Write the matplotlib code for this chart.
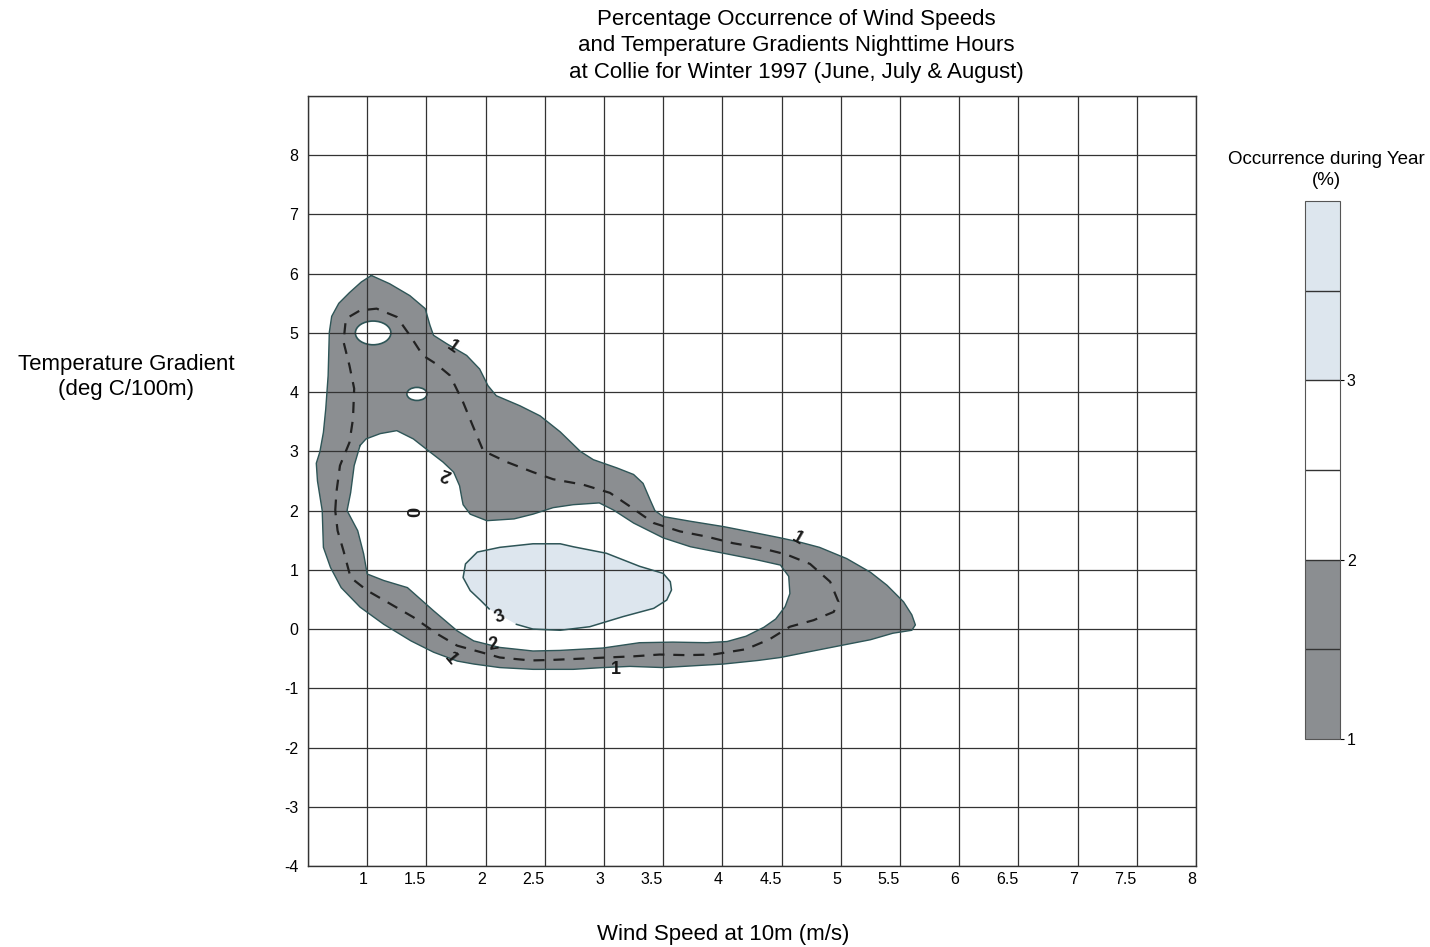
import numpy as np
import matplotlib as mpl
import matplotlib.pyplot as plt
from matplotlib.colors import ListedColormap, BoundaryNorm
from matplotlib.patches import Ellipse

plt.rcParams['font.family'] = ['Liberation Sans', 'DejaVu Sans']

# isolines (wind speed m/s, temp gradient deg C/100m)
# 1 % isoline (outer edge of the grey band)
lvl1_ws = [1.035, 1.19, 1.36, 1.49, 1.53, 1.56, 1.67, 1.84, 1.95, 2.02, 2.09, 2.29, 2.46,
           2.63, 2.80, 2.91, 3.11, 3.25, 3.33, 3.39, 3.43, 3.50, 3.73, 4.01, 4.29, 4.49,
           4.65, 4.82, 5.05, 5.25, 5.39, 5.53, 5.60, 5.63, 5.60, 5.44, 5.25, 5.02, 4.74,
           4.49, 4.30, 4.01, 3.50, 3.22, 2.99, 2.74, 2.40, 2.12, 1.90, 1.76, 1.56, 1.37,
           1.14, 0.94, 0.78, 0.69, 0.63, 0.62, 0.58, 0.57, 0.60, 0.63, 0.65, 0.67, 0.68,
           0.70, 0.76, 0.85, 0.95]
lvl1_tg = [5.97, 5.83, 5.63, 5.41, 5.13, 4.96, 4.82, 4.62, 4.39, 4.11, 3.94, 3.77, 3.60,
           3.33, 3.00, 2.86, 2.72, 2.61, 2.46, 2.18, 2.00, 1.90, 1.82, 1.73, 1.62, 1.54,
           1.47, 1.38, 1.19, 0.96, 0.74, 0.46, 0.24, 0.07, -0.02, -0.07, -0.18, -0.27, -0.38,
           -0.48, -0.53, -0.59, -0.65, -0.63, -0.65, -0.68, -0.68, -0.65, -0.59, -0.54, -0.39, -0.20,
           0.08, 0.37, 0.70, 1.04, 1.38, 2.00, 2.50, 2.80, 2.99, 3.32, 3.72, 4.28, 5.01,
           5.28, 5.50, 5.68, 5.86]

# 2 % isoline (white area inside the band)
lvl2_ws = [0.94, 0.99, 1.11, 1.25, 1.39, 1.53, 1.64, 1.73, 1.78, 1.80, 1.81, 1.87, 2.01,
           2.24, 2.40, 2.57, 2.74, 2.96, 3.08, 3.25, 3.50, 3.73, 4.01, 4.29, 4.49, 4.56,
           4.57, 4.53, 4.45, 4.35, 4.20, 4.04, 3.87, 3.58, 3.30, 2.99, 2.63, 2.40, 2.12,
           1.90, 1.76, 1.56, 1.34, 1.14, 1.00, 0.97, 0.92, 0.83, 0.86, 0.89]
lvl2_tg = [3.10, 3.21, 3.30, 3.35, 3.21, 2.99, 2.82, 2.65, 2.42, 2.20, 2.10, 1.94, 1.83,
           1.86, 1.94, 2.05, 2.10, 2.13, 2.01, 1.79, 1.54, 1.39, 1.28, 1.17, 1.08, 0.89,
           0.60, 0.38, 0.17, 0.03, -0.12, -0.21, -0.23, -0.22, -0.23, -0.32, -0.36, -0.37, -0.31,
           -0.20, -0.03, 0.31, 0.70, 0.82, 0.93, 1.27, 1.66, 2.00, 2.30, 2.76]

# small 2 % pockets inside the grey area: centre and half widths
pocket_ws = [1.05, 1.42]
pocket_tg = [5.00, 3.97]
pocket_dws = [0.15, 0.085]
pocket_dtg = [0.20, 0.11]

# 3 % isoline
lvl3_ws = [2.26, 2.40, 2.63, 2.88, 3.16, 3.42, 3.53, 3.57, 3.56, 3.50, 3.30, 3.02, 2.74,
           2.63, 2.40, 2.12, 1.93, 1.83, 1.81, 1.87, 1.96, 2.03]
lvl3_tg = [0.08, 0.00, -0.02, 0.04, 0.21, 0.35, 0.49, 0.66, 0.80, 0.94, 1.06, 1.28, 1.39,
           1.44, 1.44, 1.38, 1.30, 1.10, 0.87, 0.65, 0.48, 0.34]

# dashed line through the grey band
dash_ws = [0.73, 0.74, 0.77, 0.85, 0.88, 0.89, 0.85, 0.80, 0.82, 0.94, 1.08, 1.25, 1.36,
           1.47, 1.58, 1.70, 1.81, 1.89, 1.98, 2.18, 2.40, 2.57, 2.82, 3.05, 3.22, 3.42,
           3.64, 3.87, 4.09, 4.32, 4.54, 4.74, 4.91, 4.98, 4.94, 4.77, 4.57, 4.40, 4.20,
           3.92, 3.70, 3.47, 3.25, 3.02, 2.80, 2.57, 2.38, 2.12, 1.96, 1.76, 1.59, 1.39,
           1.20, 1.00, 0.86, 0.80, 0.75, 0.73]
dash_tg = [2.00, 2.31, 2.76, 3.15, 3.55, 4.06, 4.45, 4.85, 5.24, 5.38, 5.41, 5.27, 4.96,
           4.62, 4.48, 4.28, 3.83, 3.44, 3.01, 2.82, 2.65, 2.53, 2.44, 2.30, 2.07, 1.79,
           1.65, 1.56, 1.45, 1.37, 1.26, 1.10, 0.80, 0.46, 0.29, 0.15, 0.04, -0.17, -0.34,
           -0.43, -0.44, -0.43, -0.46, -0.48, -0.50, -0.52, -0.53, -0.48, -0.39, -0.28, -0.08, 0.20,
           0.42, 0.65, 0.87, 1.32, 1.66, 2.00]

# hand written labels on the lines
lab_text = ['1', '2', '0', '1', '3', '2', '1', '1']
lab_ws = [1.72, 1.67, 1.41, 4.63, 2.12, 2.07, 1.70, 3.10]
lab_tg = [4.76, 2.62, 1.97, 1.52, 0.20, -0.26, -0.50, -0.68]
lab_rot = [-35, 160, 90, -30, 20, 10, -50, 0]

x_ticks = [0.5, 1, 1.5, 2, 2.5, 3, 3.5, 4, 4.5, 5, 5.5, 6, 6.5, 7, 7.5, 8]
x_labels = ['', '1', '1.5', '2', '2.5', '3', '3.5', '4', '4.5', '5', '5.5', '6', '6.5',
            '7', '7.5', '8']
y_ticks = list(range(-4, 10))
y_labels = [str(v) for v in range(-4, 9)] + ['']

cb_bounds = [1, 1.5, 2, 2.5, 3, 3.5, 4]
cb_ticks = [1, 2, 3]

GREY = '#8b8e91'
BLUE = '#dde6ee'
EDGE = '#2e5557'

fig = plt.figure(figsize=(14.3, 9.47), dpi=100)
ax = fig.add_axes([308 / 1430, 81 / 947, 888 / 1430, 770 / 947])

ax.fill(lvl1_ws, lvl1_tg, color=GREY, lw=0, zorder=1)
ax.plot(lvl1_ws + lvl1_ws[:1], lvl1_tg + lvl1_tg[:1], color=EDGE, lw=1, zorder=3)
ax.fill(lvl2_ws, lvl2_tg, color='white', lw=0, zorder=1.1)
ax.plot(lvl2_ws + lvl2_ws[:1], lvl2_tg + lvl2_tg[:1], color=EDGE, lw=1, zorder=3)
for cx, cy, dx, dy in zip(pocket_ws, pocket_tg, pocket_dws, pocket_dtg):
    ax.add_patch(Ellipse((cx, cy), 2 * dx, 2 * dy, facecolor='white', edgecolor=EDGE,
                         lw=1.2, zorder=1.2))
ax.fill(lvl3_ws, lvl3_tg, color=BLUE, lw=0, zorder=1.3)
ax.plot(lvl3_ws, lvl3_tg, color=EDGE, lw=1.1, zorder=3)
ax.plot(dash_ws, dash_tg, color='#222222', lw=1.6, ls=(0, (5, 4)), zorder=3.5)

for t, x, y, r in zip(lab_text, lab_ws, lab_tg, lab_rot):
    ax.text(x, y, t, rotation=r, ha='center', va='center', fontsize=13,
            fontweight='bold', color='#1a1a1a', zorder=4)

ax.set_xlim(0.5, 8)
ax.set_ylim(-4, 9)
ax.set_xticks(x_ticks)
ax.set_xticklabels(x_labels)
ax.set_yticks(y_ticks)
ax.set_yticklabels(y_labels)
for lbl in ax.get_xticklabels():
    lbl.set_horizontalalignment('right')
ax.tick_params(length=0, labelsize=11.5)
ax.tick_params(axis='x', pad=4)
ax.tick_params(axis='y', pad=7)
ax.grid(True, color='#333333', lw=0.9)
ax.set_axisbelow(False)
for sp in ax.spines.values():
    sp.set_color('#333333')
    sp.set_linewidth(1)

fig.text(796 / 1430, 1 - 46 / 947,
         'Percentage Occurrence of Wind Speeds\nand Temperature Gradients Nighttime Hours\n'
         'at Collie for Winter 1997 (June, July & August)',
         ha='center', va='center', fontsize=16, linespacing=1.32)
fig.text(126 / 1430, 1 - 377 / 947, 'Temperature Gradient\n(deg C/100m)',
         ha='center', va='center', fontsize=16, linespacing=1.28)
fig.text(723 / 1430, 1 - 934 / 947, 'Wind Speed at 10m (m/s)',
         ha='center', va='center', fontsize=16)
fig.text(1326 / 1430, 1 - 170 / 947, 'Occurrence during Year\n(%)',
         ha='center', va='center', fontsize=13.5, linespacing=1.3)

# legend bar
cax = fig.add_axes([1305 / 1430, 208 / 947, 35 / 1430, 538 / 947])
cmap = ListedColormap([GREY, GREY, 'white', 'white', BLUE, BLUE])
norm = BoundaryNorm(cb_bounds, cmap.N)
cb = fig.colorbar(mpl.cm.ScalarMappable(norm=norm, cmap=cmap), cax=cax,
                  ticks=cb_ticks, drawedges=True)
cb.minorticks_off()
cb.dividers.set_color('#333333')
cb.dividers.set_linewidth(1)
cb.outline.set_edgecolor('#555555')
cb.outline.set_linewidth(0.8)
cax.tick_params(length=3, width=0.8, labelsize=11.5, pad=2)

fig.savefig('out.png', dpi=100)
